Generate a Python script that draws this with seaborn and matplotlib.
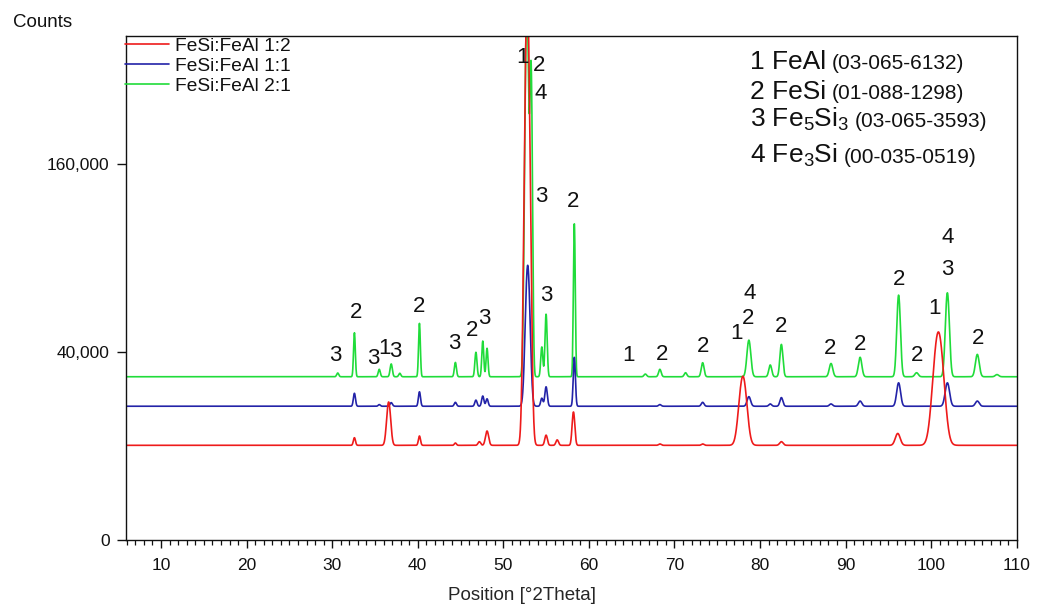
import numpy as np
import pandas as pd
import matplotlib
matplotlib.use('Agg')
import matplotlib.pyplot as plt
import seaborn as sns
from matplotlib.ticker import MultipleLocator, NullLocator
from matplotlib.transforms import offset_copy

# scan range [°2Theta]
two_theta_start = 5.87
two_theta_end = 110.0

samples = ['FeSi:FeAl 1:2', 'FeSi:FeAl 1:1', 'FeSi:FeAl 2:1']
colors = ['#ee1b1b', '#2323a8', '#20dc3a']
backgrounds = [10200, 20300, 30200]

# peaks: position, height above background, width
red_pos = [32.6, 36.6, 40.2, 44.4, 47.2, 48.1, 52.8, 55.0, 56.3, 58.2, 68.3, 73.3, 78.0, 82.5, 96.1, 100.85]
red_amp = [1700, 11400, 2100, 500, 800, 3300, 330000, 2300, 1200, 8400, 300, 300, 20200, 800, 2700, 38800]
red_wid = [0.12, 0.22, 0.12, 0.12, 0.15, 0.18, 0.27, 0.15, 0.15, 0.15, 0.15, 0.15, 0.42, 0.2, 0.28, 0.55]

blue_pos = [32.6, 35.5, 36.9, 40.2, 44.4, 46.8, 47.6, 48.1, 52.85, 54.5, 55.0, 58.3, 68.3, 73.3, 78.7, 81.2, 82.5, 88.3, 91.7, 96.2, 101.9, 105.4]
blue_amp = [4100, 500, 1100, 4600, 1200, 1900, 3200, 2300, 65000, 2500, 6300, 17500, 500, 1200, 3000, 700, 2700, 700, 1600, 7700, 7700, 1600]
blue_wid = [0.12, 0.12, 0.14, 0.12, 0.13, 0.13, 0.13, 0.13, 0.25, 0.13, 0.14, 0.12, 0.15, 0.16, 0.2, 0.16, 0.17, 0.18, 0.2, 0.22, 0.25, 0.22]

green_pos = [30.65, 32.6, 35.5, 36.9, 37.9, 40.2, 44.4, 46.8, 47.6, 48.1, 52.75, 53.25, 54.5, 55.0, 58.3, 66.6, 68.3, 71.3, 73.3, 78.7, 81.2, 82.5, 88.3, 91.7, 96.2, 98.3, 101.9, 105.4, 107.7]
green_amp = [1400, 18400, 2800, 4900, 1300, 22900, 5500, 9700, 14600, 11400, 300000, 215000, 12000, 27500, 83000, 1000, 2800, 1500, 5400, 15000, 4500, 13100, 5100, 7600, 37600, 1500, 38900, 8800, 800]
green_wid = [0.12, 0.1, 0.12, 0.13, 0.12, 0.1, 0.12, 0.12, 0.11, 0.11, 0.2, 0.14, 0.12, 0.12, 0.1, 0.15, 0.15, 0.15, 0.16, 0.22, 0.17, 0.17, 0.2, 0.2, 0.2, 0.2, 0.22, 0.22, 0.2]

# phase markers above the peaks
peak_labels = ['3', '2', '3', '1', '3', '2', '3', '2', '3', '3', '1', '2', '4', '3', '2',
               '1', '2', '2', '1', '2', '4', '2', '2', '2', '2', '2', '1', '3', '4', '2']
label_x = [30.33, 32.82, 34.8, 36.1, 37.4, 40.19, 44.28, 46.31, 47.79, 55.0, 52.29, 54.21, 54.41, 54.41, 58.18,
           64.61, 68.51, 73.3, 77.28, 78.64, 78.75, 82.45, 88.18, 91.69, 96.25, 98.38, 100.45, 101.94, 101.97, 105.51]
label_y = [38700, 58360, 37330, 41300, 40080, 61470, 43730, 49500, 55520, 67770, 263200, 254250, 224900, 132900, 129070,
           38700, 39000, 42550, 48280, 55520, 68720, 51400, 41540, 43420, 76900, 38700, 60620, 82710, 103580, 45980]

phase_names = ['1 FeAl', '2 FeSi', '3 Fe$\\mathregular{_5}$Si$\\mathregular{_3}$', '4 Fe$\\mathregular{_3}$Si']
phase_cards = ['(03-065-6132)', '(01-088-1298)', '(03-065-3593)', '(00-035-0519)']


def pattern(x, base, pos, amp, wid):
    y = np.full_like(x, base, dtype=float)
    for p, a, w in zip(pos, amp, wid):
        y += a * np.exp(-0.5 * ((x - p) / w) ** 2)
    return y


x = np.linspace(two_theta_start, two_theta_end, 6000)
peaks = [(red_pos, red_amp, red_wid), (blue_pos, blue_amp, blue_wid), (green_pos, green_amp, green_wid)]
frames = []
for name, base, (p, a, w) in zip(samples, backgrounds, peaks):
    frames.append(pd.DataFrame({'pos': x, 'counts': pattern(x, base, p, a, w), 'sample': name}))
df = pd.concat(frames, ignore_index=True)

sns.set_theme(style='ticks')
plt.rcParams['font.family'] = ['Liberation Sans', 'DejaVu Sans']
plt.rcParams['mathtext.fontset'] = 'custom'
plt.rcParams['mathtext.rm'] = 'Liberation Sans'
plt.rcParams['text.color'] = '#111111'

fig = plt.figure(figsize=(10.45, 6.06), dpi=100)
ax = fig.add_axes([0.1203, 0.1081, 0.8526, 0.8330])

draw_order = samples[::-1]  # green underneath, red on top
sns.lineplot(data=df, x='pos', y='counts', hue='sample', hue_order=draw_order,
             palette=dict(zip(samples, colors)), linewidth=1.2, estimator=None, sort=False, ax=ax)

ax.set_yscale('function', functions=(lambda v: np.sqrt(np.clip(v, 0, None)), lambda v: np.square(v)))
ax.set_xlim(two_theta_start, two_theta_end)
ax.set_ylim(0, 287000)
ax.set_yticks([0, 40000, 160000])
ax.set_yticklabels(['0', '40,000', '160,000'])
ax.yaxis.set_minor_locator(NullLocator())
ax.xaxis.set_major_locator(MultipleLocator(10))
ax.xaxis.set_minor_locator(MultipleLocator(1))

ax.tick_params(axis='x', which='major', direction='out', length=5.8, width=1.0, pad=6.5, labelsize=12.5, colors='#111111')
ax.tick_params(axis='x', which='minor', direction='out', length=3.6, width=0.9, colors='#111111')
ax.tick_params(axis='y', which='major', direction='out', length=6.5, width=1.0, pad=5, labelsize=12.5, colors='#111111')
for s in ax.spines.values():
    s.set_color('#111111')
    s.set_linewidth(1.0)

ax.set_xlabel('Position [°2Theta]', fontsize=13.5)
ax.xaxis.set_label_coords(0.4448, -0.108)
ax.xaxis.label.set_va('center')
ax.set_ylabel('')
fig.text(13 / 1045, 1 - 22.7 / 606, 'Counts', fontsize=13.5, ha='left', va='center')

# legend in the original order
handles, labels = ax.get_legend_handles_labels()
lookup = dict(zip(labels, handles))
ax.legend([lookup[s] for s in samples], samples, loc='upper left', bbox_to_anchor=(-0.002, 0.998),
          frameon=False, borderaxespad=0, borderpad=0.05, handlelength=2.3, handletextpad=0.3,
          labelspacing=0.12, fontsize=13.8)

for t, lx, ly in zip(peak_labels, label_x, label_y):
    ax.text(lx, ly, t, fontsize=16, ha='center', va='center')

# phase list, card numbers follow each name
name_y = [0.9335, 0.874, 0.8197, 0.7478]
fig.canvas.draw()
renderer = fig.canvas.get_renderer()
for nm, card, ny in zip(phase_names, phase_cards, name_y):
    t = ax.text(0.7004, ny, nm, transform=ax.transAxes, fontsize=19, va='baseline', ha='left')
    x_end = t.get_window_extent(renderer).x1
    x_ax = ax.transAxes.inverted().transform((x_end, 0))[0]
    ax.text(x_ax, ny, card, transform=offset_copy(ax.transAxes, fig=fig, x=6, units='dots'),
            fontsize=15, va='baseline', ha='left')

fig.savefig('out.png', dpi=100)
